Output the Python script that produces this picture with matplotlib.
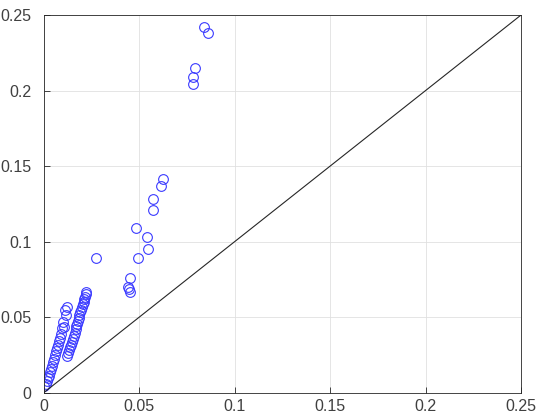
import matplotlib
matplotlib.use("Agg")
import matplotlib.pyplot as plt
import numpy as np

plt.rcParams['font.family'] = ['Liberation Sans', 'DejaVu Sans']

# Dense lower-left cluster, left branch
x_left = [0.0000, 0.0010, 0.0016, 0.0021, 0.0026, 0.0031, 0.0037, 0.0042, 0.0047,
          0.0052, 0.0058, 0.0063, 0.0068, 0.0073, 0.0079, 0.0084, 0.0089, 0.0094,
          0.0105, 0.0100, 0.0115, 0.0110, 0.0121]
y_left = [0.0043, 0.0056, 0.0076, 0.0096, 0.0109, 0.0136, 0.0156, 0.0175, 0.0202,
          0.0222, 0.0248, 0.0275, 0.0295, 0.0315, 0.0341, 0.0361, 0.0387, 0.0427,
          0.0434, 0.0467, 0.0513, 0.0546, 0.0566]
# Dense lower-left cluster, right branch
x_right = [0.0121, 0.0126, 0.0131, 0.0136, 0.0142, 0.0147, 0.0152, 0.0157, 0.0162,
           0.0168, 0.0168, 0.0173, 0.0178, 0.0183, 0.0183, 0.0189, 0.0194, 0.0199,
           0.0204, 0.0210, 0.0210, 0.0215, 0.0220, 0.0220]
y_right = [0.0242, 0.0262, 0.0281, 0.0301, 0.0315, 0.0334, 0.0354, 0.0374, 0.0394,
           0.0421, 0.0440, 0.0454, 0.0474, 0.0493, 0.0513, 0.0533, 0.0546, 0.0566,
           0.0586, 0.0599, 0.0619, 0.0632, 0.0652, 0.0666]
# Scattered upper points
x_upper = [0.0273, 0.0482, 0.0540, 0.0545, 0.0493, 0.0451, 0.0440, 0.0445, 0.0451,
           0.0622, 0.0612, 0.0570, 0.0570, 0.0839, 0.0861, 0.0791, 0.0782, 0.0782]
y_upper = [0.0891, 0.1089, 0.1030, 0.0950, 0.0891, 0.0758, 0.0699, 0.0685, 0.0666,
           0.1414, 0.1368, 0.1280, 0.1209, 0.2423, 0.2379, 0.2147, 0.2091, 0.2041]

diag = [0, 0.25]
ticks = [0, 0.05, 0.1, 0.15, 0.2, 0.25]
tick_labels = ['0', '0.05', '0.1', '0.15', '0.2', '0.25']

x_all = x_left + x_right + x_upper
y_all = y_left + y_right + y_upper

fig = plt.figure(figsize=(5.38, 4.18), dpi=100)
ax = fig.add_axes([0.0818, 0.061, 0.8866, 0.903])

ax.plot(x_all, y_all, linestyle='none', marker='o', markersize=7,
        markerfacecolor='none', markeredgecolor='#3a3aff', markeredgewidth=0.8)
ax.plot(diag, diag, color='#262626', linewidth=0.8)

ax.set_xlim(0, 0.25)
ax.set_ylim(0, 0.25)
ax.set_xticks(ticks)
ax.set_xticklabels(tick_labels)
ax.set_yticks(ticks)
ax.set_yticklabels(tick_labels)
ax.grid(True, color='#e0e0e0', linewidth=0.6)
ax.set_axisbelow(True)
ax.tick_params(direction='in', length=4, width=0.6, colors='#262626',
               labelsize=11.5, top=False, right=False)
ax.tick_params(axis='y', pad=9)
ax.tick_params(axis='x', pad=5)
for lab in ax.get_xticklabels() + ax.get_yticklabels():
    lab.set_color('#404040')
for s in ax.spines.values():
    s.set_color('#262626')
    s.set_linewidth(0.6)

fig.savefig('out.png', dpi=100)
